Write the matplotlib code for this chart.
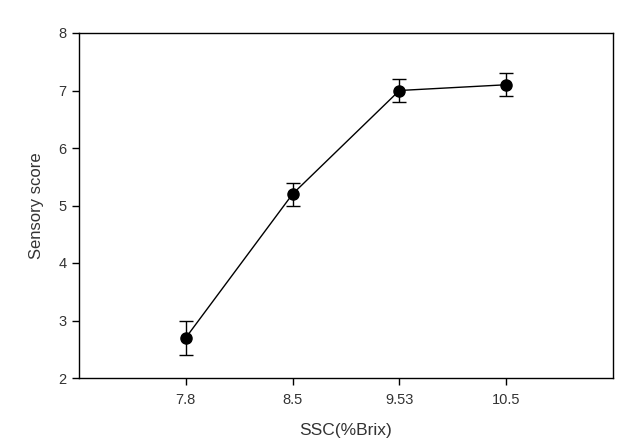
import matplotlib
matplotlib.use("Agg")
import matplotlib.pyplot as plt

categories = ["7.8", "8.5", "9.53", "10.5"]
scores = [2.7, 5.2, 7.0, 7.1]
errors = [0.3, 0.2, 0.2, 0.2]
yticks = [2, 3, 4, 5, 6, 7, 8]

plt.rcParams['font.family'] = ['Liberation Sans', 'DejaVu Sans']

fig = plt.figure(figsize=(6.41, 4.46), dpi=100)
ax = fig.add_axes([79/641, 1-378/446, (613-79)/641, (378-33)/446])

x = list(range(1, len(categories) + 1))
ax.errorbar(x, scores, yerr=errors, fmt='o-', color='black', ms=8, lw=1,
            elinewidth=1, capsize=5, capthick=1)

ax.set_xlim(0, len(categories) + 1)
ax.set_ylim(2, 8)
ax.set_xticks(x)
ax.set_xticklabels(categories)
ax.set_yticks(yticks)
ax.tick_params(direction='out', length=5, width=1, labelsize=10.5, colors='black',
               labelcolor='#333333')
ax.tick_params(axis='x', pad=6)
ax.tick_params(axis='y', pad=4)
for s in ax.spines.values():
    s.set_linewidth(1)
ax.set_xlabel("SSC(%Brix)", fontsize=12.5, color='#333333', labelpad=11)
ax.set_ylabel("Sensory score", fontsize=12, color='#333333', labelpad=10)

fig.savefig("out.png", dpi=100)
